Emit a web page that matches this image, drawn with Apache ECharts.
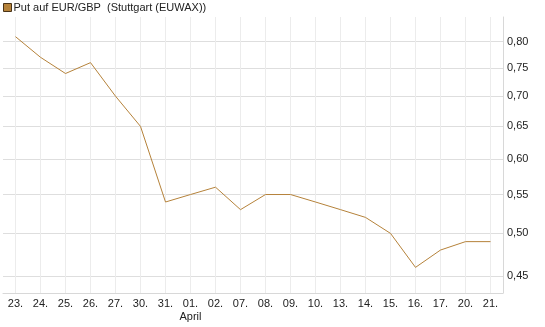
<!DOCTYPE html>
<html><head><meta charset="utf-8">
<script src="https://cdn.jsdelivr.net/npm/echarts@6/dist/echarts.min.js"></script>
<style>html,body{margin:0;padding:0;background:#fff}#c{width:545px;height:327px}</style>
</head><body><div id="c"></div>
<script>
const categories = ['23.','24.','25.','26.','27.','30.','31.','01.','02.','07.','08.','09.','10.','13.','14.','15.','16.','17.','20.','21.'];
const monthLabels = {'01.': 'April'};
const values = [0.81,0.77,0.74,0.76,0.70,0.65,0.54,0.55,0.56,0.53,0.55,0.55,0.54,0.53,0.52,0.50,0.46,0.48,0.49,0.49];
const yTicks = [0.45,0.50,0.55,0.60,0.65,0.70,0.75,0.80];
const seriesName = 'Put auf EUR/GBP  (Stuttgart (EUWAX))';

const chart = echarts.init(document.getElementById('c'));
chart.setOption({
  animation: false,
  textStyle: {fontFamily: 'Liberation Sans, Arial, sans-serif'},
  legend: {
    left: 3, top: 2, padding: 0, itemWidth: 8, itemHeight: 8, itemGap: 5,
    icon: 'rect',
    textStyle: {fontSize: 11, color: '#222', padding: [0,0,0,-3]},
    data: [{name: seriesName, itemStyle: {color: '#b5823a', borderColor: '#4a3418', borderWidth: 1}}]
  },
  grid: {left: 3, right: 42, top: 17, bottom: 34, containLabel: false},
  xAxis: {
    type: 'category', data: categories, boundaryGap: true,
    axisLine: {show: true, lineStyle: {color: '#d8d8d8'}},
    axisTick: {show: false, alignWithLabel: true},
    splitLine: {show: true, alignWithLabel: true, lineStyle: {color: '#ececec'}},
    axisLabel: {
      interval: 0, fontSize: 11, color: '#222', margin: 4, lineHeight: 13.5,
      formatter: function (v) { return monthLabels[v] ? v + '\n' + monthLabels[v] : v; }
    }
  },
  yAxis: {
    type: 'log', logBase: 10, position: 'right', min: 0.432, max: 0.85,
    axisLine: {show: true, lineStyle: {color: '#d8d8d8'}},
    axisTick: {show: false, customValues: yTicks},
    splitLine: {show: true, lineStyle: {color: '#dedede'}},
    axisLabel: {
      customValues: yTicks, fontSize: 11, color: '#222', margin: 4,
      formatter: function (v) { return Number(v).toFixed(2).replace('.', ','); }
    }
  },
  series: [{
    name: seriesName, type: 'line', data: values, symbol: 'none',
    lineStyle: {color: '#b5823a', width: 1}, itemStyle: {color: '#b5823a'}
  }]
});
</script></body></html>
